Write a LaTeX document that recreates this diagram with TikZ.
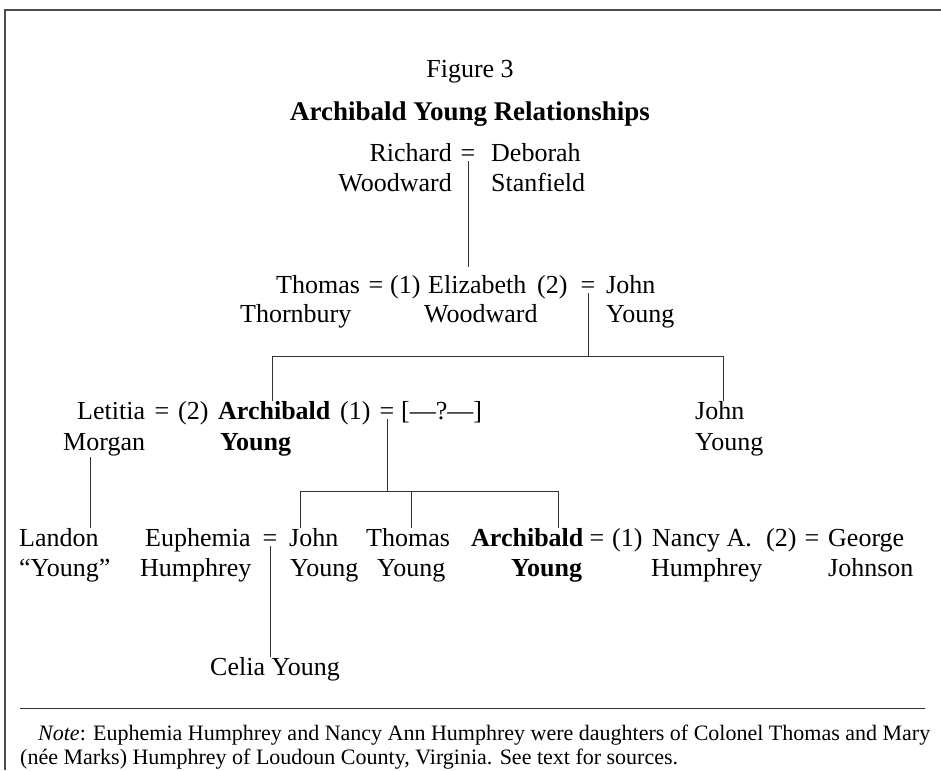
\documentclass[tikz,border=0pt]{standalone}
\usepackage{fontspec}
\setmainfont{Liberation Serif}
\begin{document}
\begin{tikzpicture}[x=1pt,y=-1pt,
  lbl/.style={inner sep=0pt, anchor=base west, font=\fontsize{26}{30}\selectfont},
  lble/.style={lbl, anchor=base east},
  bld/.style={lbl, font=\fontsize{26}{30}\selectfont\bfseries},
  eqs/.style={lbl, anchor=base},
  ln/.style={line width=0.8pt, black!80},
  frame/.style={line width=1.2pt, black!70},
  notef/.style={inner sep=0pt, anchor=base west, font=\fontsize{22}{26}\selectfont},
  ]
\useasboundingbox (0,0) rectangle (941,770);
% frame
\coordinate (fa) at (5,770);
\coordinate (fb) at (5,10);
\coordinate (fc) at (941,10);
\draw[frame] (fa) -- (fb) -- (fc);
% titles
\node[inner sep=0pt, anchor=base, font=\fontsize{26}{30}\selectfont] (fig) at (470,78) {Figure 3};
\node[inner sep=0pt, anchor=base, font=\fontsize{27}{30}\selectfont\bfseries] (ttl) at (470,121) {Archibald Young Relationships};
% row A
\node[lble] (richard) at (452,161) {Richard};
\node[eqs] (eqA) at (468,161) {=};
\node[lbl] (deborah) at (491,161) {Deborah};
\node[lble] (woodA) at (452,191) {Woodward};
\node[lbl] (stanf) at (491,191) {Stanfield};
% row B
\node[lbl] (thomasB) at (276,293) {Thomas};
\node[eqs] (eqB1) at (376,293) {=};
\node[lbl] (oneB) at (390,293) {(1)};
\node[lbl] (eliz) at (428,293) {Elizabeth};
\node[lbl] (twoB) at (537,293) {(2)};
\node[eqs] (eqB2) at (588,293) {=};
\node[lbl] (johnB) at (606,293) {John};
\node[lbl] (thorn) at (240,322) {Thornbury};
\node[lbl] (woodB) at (424,322) {Woodward};
\node[lbl] (youngB) at (606,322) {Young};
% row C
\node[lbl] (letitia) at (77,419) {Letitia};
\node[eqs] (eqC1) at (162,419) {=};
\node[lbl] (twoC) at (178,419) {(2)};
\node[bld] (archC) at (218,419) {Archibald};
\node[lbl] (oneC) at (340,419) {(1)};
\node[eqs] (eqC2) at (387,419) {=};
\node[lbl] (unk) at (401,419) {[—?—]};
\node[lbl] (morgan) at (63,450) {Morgan};
\node[bld] (youngC) at (220,450) {Young};
\node[lbl] (johnC) at (695,419) {John};
\node[lbl] (youngC2) at (695,450) {Young};
% row D
\node[lbl] (landon) at (19,546) {Landon};
\node[lbl] (euph) at (145,546) {Euphemia};
\node[eqs] (eqD1) at (270,546) {=};
\node[lbl] (johnD) at (289,546) {John};
\node[lbl] (thomasD) at (366,546) {Thomas};
\node[bld] (archD) at (471,546) {Archibald};
\node[eqs] (eqD2) at (597,546) {=};
\node[lbl] (oneD) at (612,546) {(1)};
\node[lbl] (nancy) at (652,546) {Nancy A.};
\node[lbl] (twoD) at (766,546) {(2)};
\node[eqs] (eqD3) at (812,546) {=};
\node[lbl] (george) at (828,546) {George};
\node[lbl] (youngQ) at (19,576) {“Young”};
\node[lbl] (humE) at (140,576) {Humphrey};
\node[lbl] (youngD1) at (290,576) {Young};
\node[lbl] (youngD2) at (377,576) {Young};
\node[bld] (youngD3) at (511,576) {Young};
\node[lbl] (humN) at (651,576) {Humphrey};
\node[lbl] (johnson) at (828,576) {Johnson};
% row E
\node[lbl] (celia) at (210,675) {Celia Young};
% connectors
\coordinate (vA) at (468,267);
\draw[ln] (eqA.south) -- (vA);
\coordinate (hBl) at (272,356);
\coordinate (hBr) at (723,356);
\draw[ln] (eqB2.south) -- (eqB2.south |- hBl);
\draw[ln] (hBl |- archC.north) -- (hBl) -- (hBr) -- (hBr |- johnC.north);
\coordinate (hCl) at (300,491);
\coordinate (hCm) at (411,491);
\coordinate (hCr) at (558,491);
\draw[ln] (eqC2.south) -- (eqC2.south |- hCl);
\draw[ln] (hCl |- johnD.north) -- (hCl) -- (hCr) -- (hCr |- archD.north);
\draw[ln] (hCm) -- (hCm |- thomasD.north);
\coordinate (mg) at (90,457);
\draw[ln] (mg) -- (mg |- landon.north);
\draw[ln] (eqD1.south) -- (eqD1.south |- celia.north);
% note
\coordinate (sepL) at (20,708);
\coordinate (sepR) at (925,708);
\draw[ln] (sepL) -- (sepR);
\node[notef] (note1) at (38,740) {\textit{Note}: Euphemia Humphrey and Nancy Ann Humphrey were daughters of Colonel Thomas and Mary};
\node[notef] (note2) at (20,764) {(née Marks) Humphrey of Loudoun County, Virginia. See text for sources.};
\end{tikzpicture}
\end{document}
